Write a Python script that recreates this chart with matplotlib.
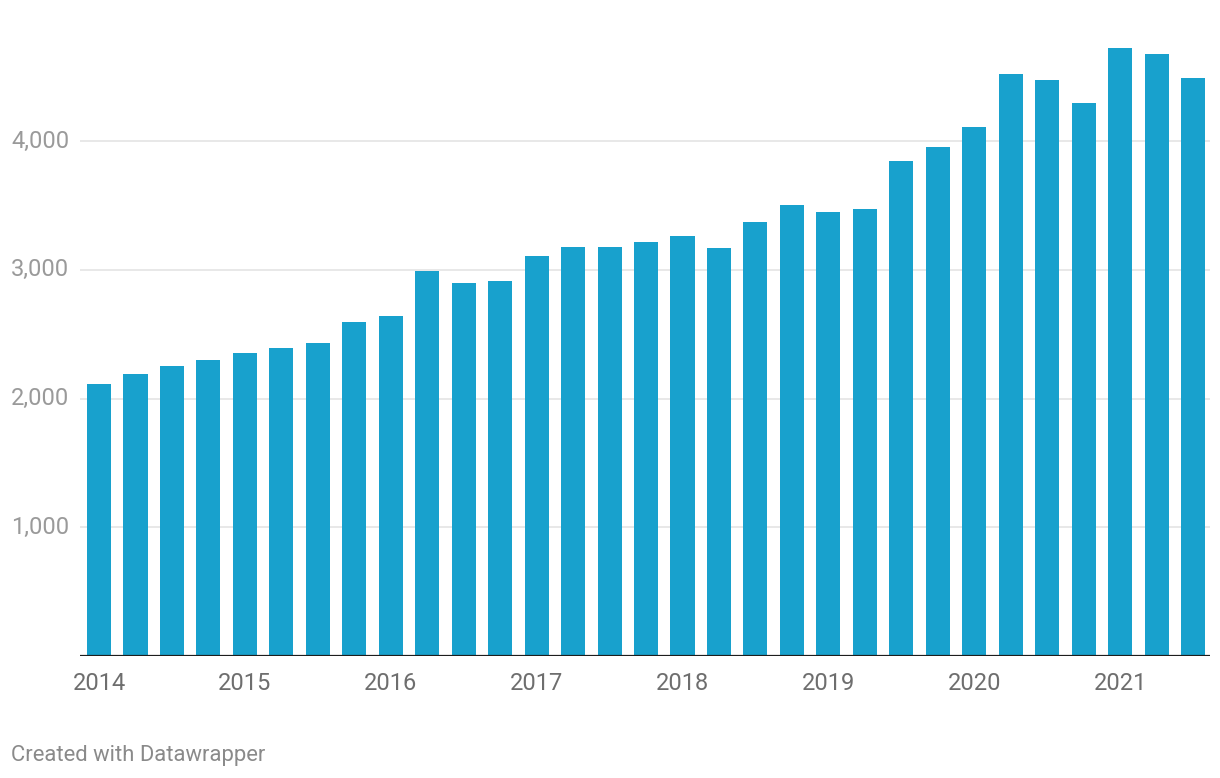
import matplotlib
matplotlib.use("Agg")
import matplotlib.pyplot as plt
from matplotlib.transforms import blended_transform_factory

quarters = [f"{y} Q{q}" for y in range(2014, 2022) for q in range(1, 5)][:31]
values = [2113, 2190, 2253, 2299, 2354, 2393, 2432, 2595, 2642, 2991, 2898,
          2914, 3108, 3178, 3178, 3217, 3264, 3170, 3372, 3505, 3450, 3473,
          3846, 3955, 4111, 4523, 4477, 4298, 4725, 4678, 4492]
year_labels = ["2014", "2015", "2016", "2017", "2018", "2019", "2020", "2021"]
y_ticks = [1000, 2000, 3000, 4000]
y_tick_labels = ["1,000", "2,000", "3,000", "4,000"]

plt.rcParams['font.family'] = ['Roboto', 'DejaVu Sans']

W, H = 1220, 778
fig = plt.figure(figsize=(W / 100, H / 100), dpi=100)
fig.patch.set_facecolor("white")

left_px, right_px, base_px = 80, 1210, 655.7
ax = fig.add_axes([left_px / W, (H - base_px) / H, (right_px - left_px) / W, base_px / H])
step = 36.47
ax.set_xlim((left_px - 99) / step, (right_px - 99) / step)
ax.set_ylim(0, base_px / 128.6 * 1000)

x = list(range(len(values)))
ax.bar(x, values, width=0.66, color="#18a1cd", zorder=2)

for t in y_ticks:
    ax.axhline(t, color="#e6e6e6", lw=1.3, zorder=1)
ax.axhline(0, color="#1d1d1d", lw=1.6, zorder=3)

for s in ax.spines.values():
    s.set_visible(False)
ax.set_xticks([])
ax.set_yticks([])

trans = blended_transform_factory(fig.transFigure, ax.transData)
for t, lab in zip(y_ticks, y_tick_labels):
    ax.text(11 / W, t, lab, transform=trans, ha="left", va="center",
            fontsize=17, color="#9a9a9a", clip_on=False)

trans_x = blended_transform_factory(ax.transData, fig.transFigure)
for i, lab in enumerate(year_labels):
    ax.text(i * 4, 1 - 683.5 / H, lab, transform=trans_x, ha="center", va="center",
            fontsize=17, color="#6e6e6e", clip_on=False)

fig.text(11 / W, 1 - 756 / H, "Created with Datawrapper", ha="left", va="center",
         fontsize=15.8, color="#8a8a8a")

fig.savefig("out.png", dpi=100, facecolor="white")
